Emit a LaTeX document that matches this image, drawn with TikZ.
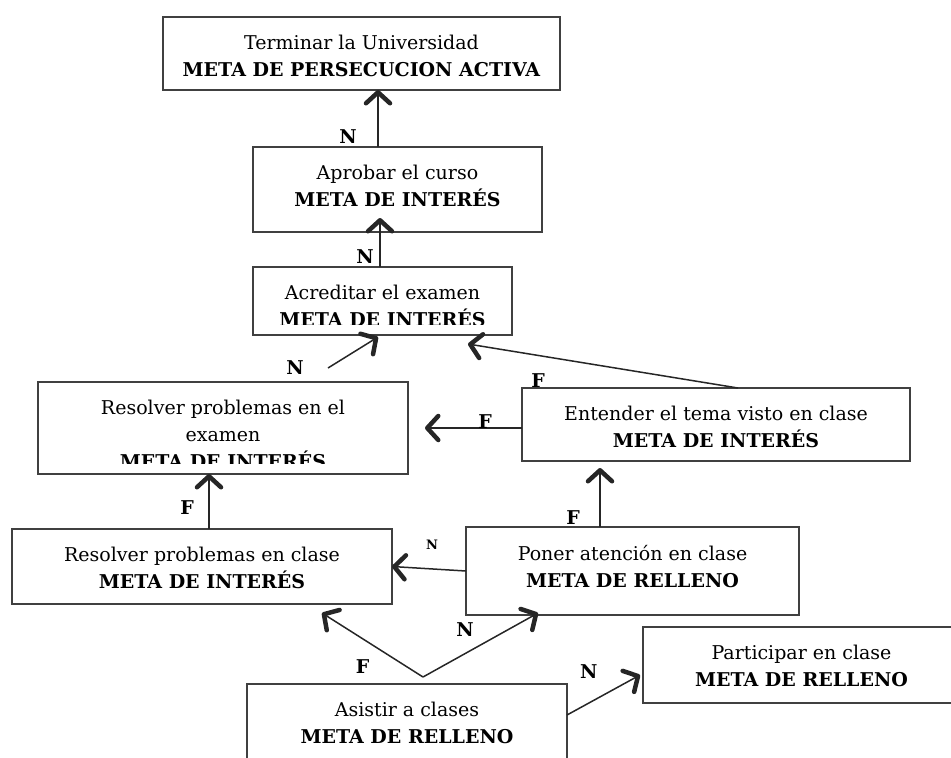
\documentclass[tikz,border=0pt]{standalone}
\usepackage{fontspec}
\setmainfont{DejaVu Serif}
\usetikzlibrary{calc, arrows.meta, positioning}

\begin{document}
\begin{tikzpicture} [x=1pt, y=-1pt,
		% define styles
		goalnodestyle/.style={
			% The shape:
			rectangle,
			% The border:
			line width=1.5pt,
			draw=black!75,
			outer sep=0pt,
			% The filling:
			fill=white,
			% No padding
			inner sep=0pt,
			% Text sits at the top, what runs over the lower border is cut off
			path picture={
				\clip ([yshift=11pt]path picture bounding box.south west) rectangle (path picture bounding box.north east);
				\node [anchor=north, align=center, inner sep=0pt, minimum size=0pt, font=\fontsize{19}{27}\selectfont] at ([yshift=-18pt]path picture bounding box.north) {#1};
			}
		},
		arrow/.style={
			-{Straight Barb[length=11pt, width=24pt, line width=4.5pt, round]},
			% Thickness
			line width=1.5pt,
			% Color
			black!85
		},
		lbl/.style={
			inner sep=0pt,
			text=black,
			font=\fontsize{19}{19}\selectfont\bfseries
		},
		smalllbl/.style={
			lbl,
			font=\fontsize{13}{13}\selectfont\bfseries
		}]
		% end of style definition

		\useasboundingbox (0,0) rectangle (951,758);
		\clip (0,0) rectangle (951,758);

		% draw nodes
		\node (iTerminar) [goalnodestyle={Terminar la Universidad\\\textbf{META DE PERSECUCION ACTIVA}}, minimum width=397pt, minimum height=73pt] at (361.5,53.5) {};
		\node (iAprobar) [goalnodestyle={Aprobar el curso\\\textbf{META DE INTERÉS}}, minimum width=289pt, minimum height=85pt, below = 57pt of iTerminar, xshift=36pt] {};
		\node (iAcreditar) [goalnodestyle={Acreditar el examen\\\textbf{META DE INTERÉS}}, minimum width=259pt, minimum height=68pt, below = 35pt of iAprobar, xshift=-15pt] {};

		\node (iResExamen) [goalnodestyle={Resolver problemas en el\\examen\\\textbf{META DE INTERÉS}}, minimum width=370pt, minimum height=92pt, below = 47pt of iAcreditar, xshift=-159.5pt] {};
		\node (iEntender) [goalnodestyle={Entender el tema visto en clase\\\textbf{META DE INTERÉS}}, minimum width=388pt, minimum height=73pt, right = 114pt of iResExamen, yshift=3.5pt] {};

		\node (iResClase) [goalnodestyle={Resolver problemas en clase\\\textbf{META DE INTERÉS}}, minimum width=380pt, minimum height=75pt, below = 55pt of iResExamen, xshift=-21pt] {};
		\node (iPoner) [goalnodestyle={Poner atención en clase\\\textbf{META DE RELLENO}}, minimum width=333pt, minimum height=88pt, right = 74pt of iResClase, yshift=-4.5pt] {};

		\node (iAsistir) [goalnodestyle={Asistir a clases\\\textbf{META DE RELLENO}}, minimum width=320pt, minimum height=80pt, below = 80pt of iResClase, xshift=205pt] {};
		\node (iParticipar) [goalnodestyle={Participar en clase\\\textbf{META DE RELLENO}}, minimum width=317pt, minimum height=76pt, right = 76pt of iAsistir, yshift=59pt] {};

		\coordinate (iFork) at ([xshift=16pt, yshift=7pt]iAsistir.north);

		% connect nodes
		\draw [arrow] ([xshift=-19.5pt]iAprobar.north) -- node[lbl, pos=0.18, xshift=-30pt] {N} ([xshift=-19.5pt]iAprobar.north |- iTerminar.south);
		\draw [arrow, shorten >=-14pt] ([xshift=-2.5pt]iAcreditar.north) -- node[lbl, pos=0.29, xshift=-15pt] {N} ([xshift=-2.5pt]iAcreditar.north |- iAprobar.south);

		\draw [arrow] ([xshift=105pt, yshift=14pt]iResExamen.north) -- node[lbl, pos=0, xshift=-33pt] {N} ([xshift=-4.5pt, yshift=-2pt]iAcreditar.south);
		\draw [arrow] ([xshift=22pt]iEntender.north) -- node[lbl, pos=0.74, yshift=-25pt] {F} ([xshift=85.5pt, yshift=-9pt]iAcreditar.south);
		\draw [arrow] ([yshift=-3.5pt]iEntender.west) -- node[lbl, pos=0.38, yshift=6pt] {F} ([xshift=17pt]iResExamen.east);

		\draw [arrow] ([xshift=7pt]iResClase.north) -- node[lbl, pos=0.39, xshift=-22pt] {F} ([xshift=7pt]iResClase.north |- iResExamen.south);
		\draw [arrow, shorten >=7pt] ([xshift=-32.5pt]iPoner.north) -- node[lbl, pos=0.15, xshift=-27pt] {F} ([xshift=-32.5pt]iPoner.north |- iEntender.south);
		\draw [arrow] (iPoner.west) -- node[smalllbl, pos=0.46, yshift=24pt] {N} (iResClase.east);

		\draw [arrow] (iFork) -- node[lbl, pos=0.3, xshift=-30pt, yshift=-9pt] {F} ([xshift=120pt, yshift=-9pt]iResClase.south);
		\draw [arrow] (iFork) -- node[lbl, pos=0.6, xshift=-27pt, yshift=9pt] {N} ([xshift=-94.5pt, yshift=2pt]iPoner.south);
		\draw [arrow] ([yshift=9pt]iAsistir.east) -- node[lbl, pos=0.3, yshift=31pt] {N} ([xshift=-3pt, yshift=-10pt]iParticipar.west);
	\end{tikzpicture}
\end{document}
